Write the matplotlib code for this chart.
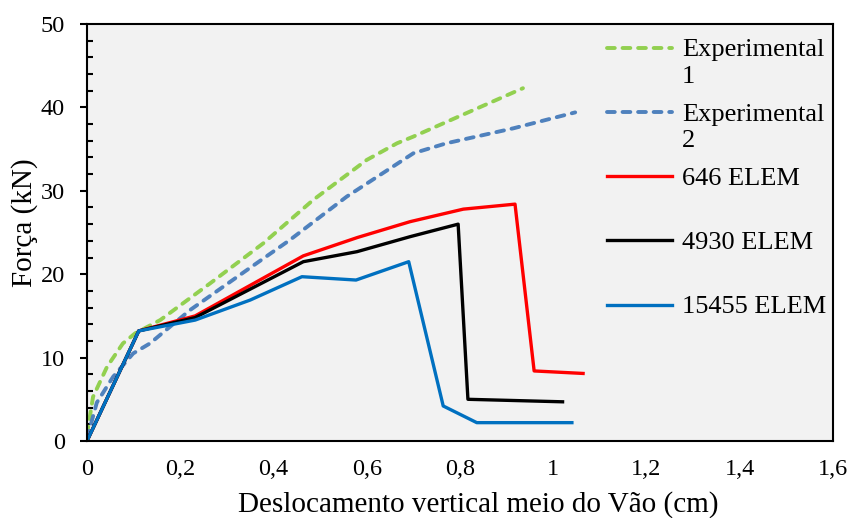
import matplotlib
matplotlib.use('Agg')
import matplotlib.pyplot as plt
from matplotlib.ticker import MultipleLocator, FuncFormatter

plt.rcParams['font.family'] = ['Liberation Serif', 'DejaVu Serif']

# ensaios experimentais
exp1_x = [0, 0.013, 0.043, 0.077, 0.103, 0.157, 0.264, 0.378, 0.485, 0.60, 0.665, 0.70, 0.793, 0.935]
exp1_y = [0.8, 5.3, 8.9, 11.7, 12.9, 14.5, 18.9, 23.7, 28.9, 33.7, 35.7, 36.5, 38.8, 42.3]

exp2_x = [0, 0.021, 0.056, 0.099, 0.135, 0.221, 0.343, 0.435, 0.557, 0.70, 0.771, 0.915, 1.047]
exp2_y = [0.3, 4.6, 7.7, 10.5, 11.7, 15.7, 20.5, 24.1, 29.3, 34.5, 35.7, 37.5, 39.4]

# modelos numericos (malhas)
m646_x = [0, 0.111, 0.232, 0.464, 0.58, 0.693, 0.807, 0.918, 0.959, 1.064]
m646_y = [0, 13.2, 15.0, 22.2, 24.4, 26.3, 27.8, 28.4, 8.4, 8.1]

m4930_x = [0, 0.111, 0.232, 0.464, 0.579, 0.693, 0.796, 0.817, 1.02]
m4930_y = [0, 13.2, 14.8, 21.5, 22.7, 24.5, 26.0, 5.0, 4.7]

m15455_x = [0, 0.111, 0.232, 0.35, 0.461, 0.577, 0.69, 0.764, 0.836, 1.04]
m15455_y = [0, 13.2, 14.5, 16.9, 19.7, 19.3, 21.5, 4.2, 2.2, 2.2]

labels = ['Experimental\n1', 'Experimental\n2', '646 ELEM\n ', '4930 ELEM\n ', '15455 ELEM\n ']

fig = plt.figure(figsize=(8.51, 5.18), dpi=100)
ax = fig.add_axes([87 / 851, 1 - 441 / 518, 746 / 851, 417 / 518])
ax.set_facecolor('#F2F2F2')

dash = dict(linestyle=(0, (2.0, 2.0)), linewidth=2.8, dash_capstyle='round')
ax.plot(exp1_x, exp1_y, color='#92D050', label=labels[0], **dash)
ax.plot(exp2_x, exp2_y, color='#4F81BD', label=labels[1], **dash)
ax.plot(m646_x, m646_y, color='#FF0000', linewidth=2.4, label=labels[2])
ax.plot(m4930_x, m4930_y, color='#000000', linewidth=2.4, label=labels[3])
ax.plot(m15455_x, m15455_y, color='#0070C0', linewidth=2.4, label=labels[4])

ax.set_xlim(0, 1.6)
ax.set_ylim(0, 50)
ax.xaxis.set_major_locator(MultipleLocator(0.2))
ax.yaxis.set_major_locator(MultipleLocator(10))
ax.yaxis.set_minor_locator(MultipleLocator(2))
ax.xaxis.set_major_formatter(FuncFormatter(lambda v, p: f'{v:g}'.replace('.', ',')))

ax.tick_params(axis='x', length=0, pad=13, labelsize=17.5)
ax.tick_params(axis='y', which='major', direction='out', length=5, width=1.5, pad=11, labelsize=17.5)
ax.tick_params(axis='y', which='minor', direction='in', length=4, width=1.5)

for s in ax.spines.values():
    s.set_linewidth(1.5)

ax.set_xlabel('Deslocamento vertical meio do Vão (cm)', fontsize=21)
ax.set_ylabel('Força (kN)', fontsize=21)
ax.xaxis.set_label_coords((478 - 87) / 746, -0.12)
ax.yaxis.set_label_coords(-0.066, 0.523)

leg = ax.legend(loc='upper left', bbox_to_anchor=(0.697, 0.963), frameon=False,
                fontsize=19, handlelength=2.45, handletextpad=0.4, labelspacing=0.6,
                borderpad=0, borderaxespad=0)
for t in leg.get_texts():
    t.set_linespacing(1.25)
# linha da legenda alinhada com a primeira linha do texto
for line in leg.get_lines():
    line.set_ydata([y + 10.5 for y in line.get_ydata()])

plt.savefig('out.png', dpi=100)
